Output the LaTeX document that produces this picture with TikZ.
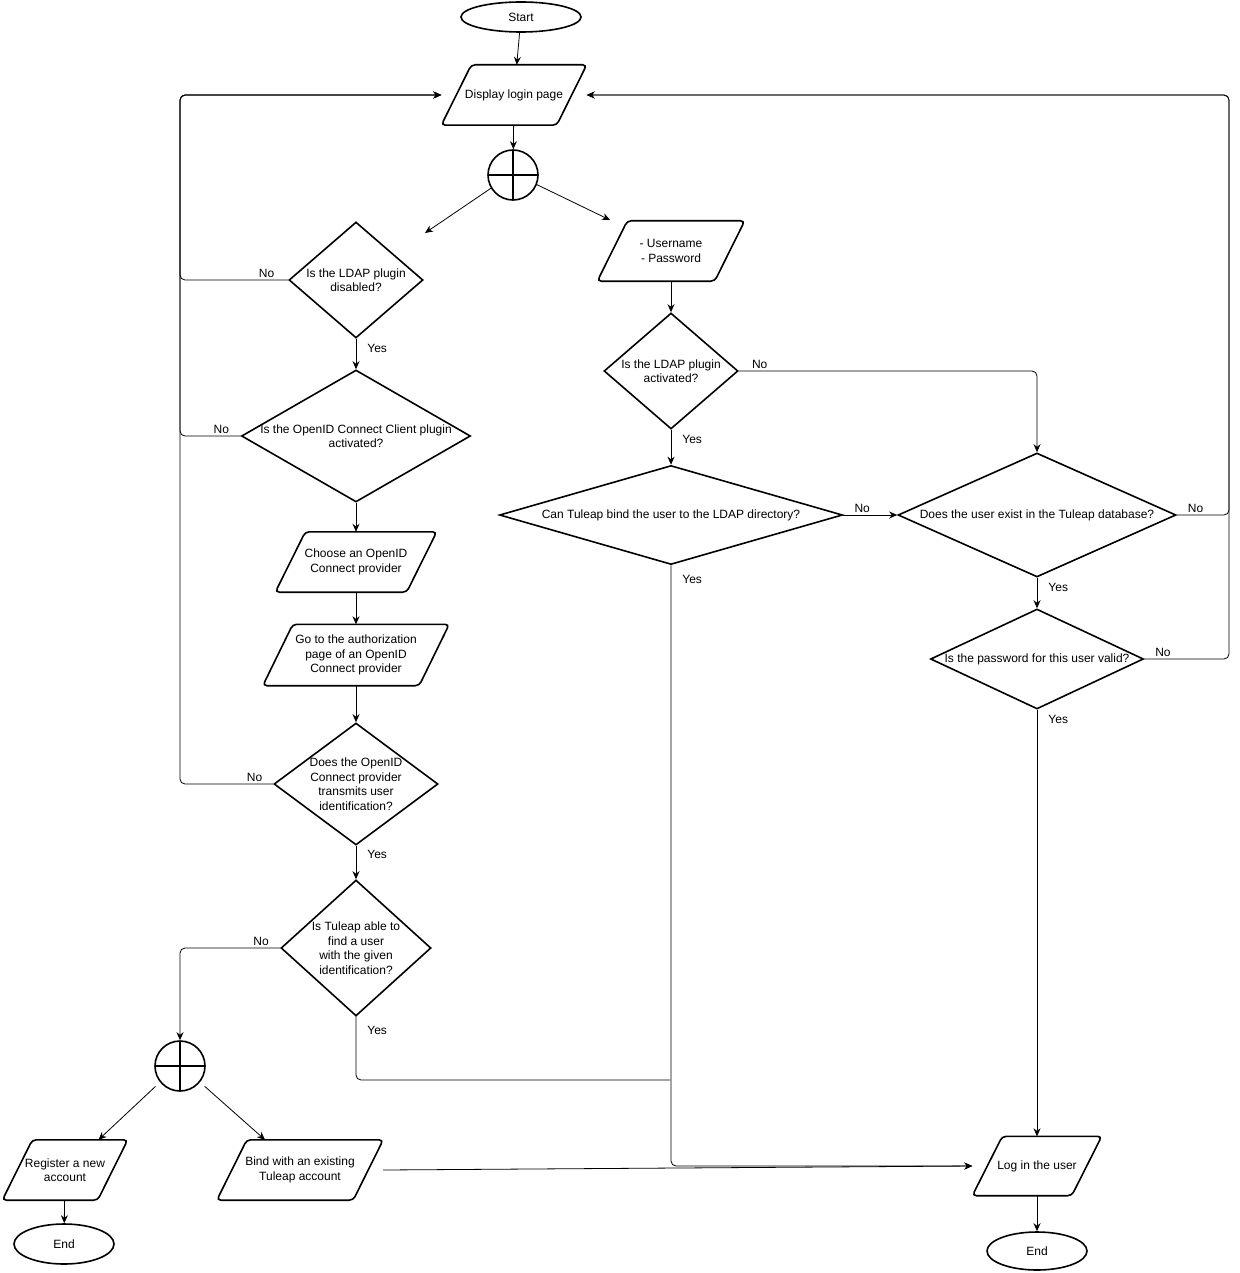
\documentclass[tikz,border=0pt]{standalone}
\usepackage{fontspec}
\setmainfont{Liberation Sans}
\usetikzlibrary{shapes.geometric,arrows.meta}

\begin{document}
\begin{tikzpicture}[x=1pt,y=-1pt,
    every node/.style={font=\fontsize{12}{14.5}\selectfont},
    term/.style={draw,ellipse,line width=1.6pt,inner sep=0pt},
    io/.style={rectangle,align=center,inner sep=1pt,
      append after command={\pgfextra{\draw[line width=1.6pt,rounded corners=4pt]
        ([xshift=15pt]\tikzlastnode.north west) -- ([xshift=15pt]\tikzlastnode.north east)
        -- ([xshift=-15pt]\tikzlastnode.south east) -- ([xshift=-15pt]\tikzlastnode.south west) -- cycle;}}},
    decision/.style={draw,diamond,line width=1.6pt,inner sep=0pt},
    orgate/.style={draw,circle,line width=1.6pt,minimum size=50pt,inner sep=0pt,
      path picture={\draw[line width=1.6pt] (path picture bounding box.north) -- (path picture bounding box.south)
        (path picture bounding box.west) -- (path picture bounding box.east);}},
    arr/.style={-{Stealth[length=8pt,width=7pt]},line width=0.8pt},
    link/.style={line width=0.8pt,rounded corners=5pt},
    lbl/.style={inner sep=2pt}]
      \useasboundingbox (0,0) rectangle (1239,1273);

      % left column
      \node[term,minimum width=120pt,minimum height=30pt] (start) at (521,17) {Start};
      \node[io,minimum width=115pt,minimum height=60pt] (disp) at (514,95) {Display login page};
      \node[orgate] (or1) at (513,175) {};
      \node[decision,minimum width=134pt,minimum height=116pt,
        label={[align=center]center:{Is the LDAP plugin\\disabled?}}] (ldapoff) at (356,280) {};
      \node[decision,minimum width=229pt,minimum height=132pt,
        label={[align=center]center:{Is the OpenID Connect Client plugin\\activated?}}] (oidc) at (356,436) {};
      \node[io,minimum width=131pt,minimum height=60pt] (choose) at (356,562) {Choose an OpenID\\Connect provider};
      \node[io,minimum width=156pt,minimum height=61pt] (authz) at (356,655) {Go to the authorization\\page of an OpenID\\Connect provider};
      \node[decision,minimum width=164pt,minimum height=122pt,
        label={[align=center]center:{Does the OpenID\\Connect provider\\transmits user\\identification?}}] (trans) at (356,784) {};
      \node[decision,minimum width=150pt,minimum height=136pt,
        label={[align=center]center:{Is Tuleap able to\\find a user\\with the given\\identification?}}] (find) at (356,948) {};
      \node[orgate] (or2) at (180,1066) {};
      \node[io,minimum width=95pt,minimum height=60pt] (reg) at (65,1170) {Register a new\\account};
      \node[term,minimum width=100pt,minimum height=40pt] (end1) at (64,1244) {End};
      \node[io,minimum width=136pt,minimum height=60pt] (bindacc) at (300,1170) {Bind with an existing\\Tuleap account};

      % right column
      \node[io,minimum width=117pt,minimum height=60pt] (cred) at (671,251) {- Username\\- Password};
      \node[decision,minimum width=134pt,minimum height=116pt,
        label={[align=center]center:{Is the LDAP plugin\\activated?}}] (ldapon) at (671,371) {};
      \node[decision,minimum width=343pt,minimum height=99pt,
        label={center:{Can Tuleap bind the user to the LDAP directory?}}] (bind) at (671,515) {};
      \node[decision,minimum width=278pt,minimum height=124pt,
        label={center:{Does the user exist in the Tuleap database?}}] (exist) at (1037,515) {};
      \node[decision,minimum width=213pt,minimum height=100pt,
        label={center:{Is the password for this user valid?}}] (pw) at (1037,659) {};
      \node[io,minimum width=99pt,minimum height=59pt] (login) at (1037,1166) {Log in the user};
      \node[term,minimum width=100pt,minimum height=38pt] (end2) at (1037,1251) {End};

      \coordinate (leftx) at (180,0);
      \coordinate (rightx) at (1229,0);
      \coordinate (dispw) at ([xshift=-15pt]disp.west);
      \coordinate (dispe) at ([xshift=15pt]disp.east);
      \coordinate (loginw) at ([xshift=-15pt]login.west);
      \coordinate (ldapoffin) at (425,233);
      \coordinate (credin) at (610,220);
      \coordinate (merge) at (670,1080);

      \draw[arr] (start) -- (disp);
      \draw[arr] (disp) -- (or1);
      \draw[arr] (or1.-149) -- (ldapoffin);
      \draw[arr] (or1.-22) -- (credin);

      \draw[arr,link] (ldapoff.west) -| node[lbl,pos=0.1,above]{No} (leftx |- dispw) -- (dispw);
      \draw[arr] (ldapoff) -- node[lbl,pos=0.31,right,xshift=9pt]{Yes} (oidc);
      \draw[arr,link] (oidc.west) -| node[lbl,pos=0.16,above]{No} (leftx |- dispw) -- (dispw);
      \draw[arr] (oidc) -- (choose);
      \draw[arr] (choose) -- (authz);
      \draw[arr] (authz) -- (trans);
      \draw[arr,link] (trans.west) -| node[lbl,pos=0.1,above]{No} (leftx |- dispw) -- (dispw);
      \draw[arr] (trans) -- node[lbl,pos=0.26,right,xshift=9pt]{Yes} (find);
      \draw[arr,link] (find.west) -| node[lbl,pos=0.095,above]{No} (or2.north);
      \draw[link] (find.south) |- node[lbl,pos=0.11,right,xshift=9pt]{Yes} (merge);
      \draw[arr,shorten <=6pt] (or2.-141) -- ([xshift=33.5pt]reg.north);
      \draw[arr,shorten <=6pt] (or2.-39) -- ([xshift=-35pt]bindacc.north);
      \draw[arr] (reg) -- (end1);
      \draw[arr] ([xshift=15pt]bindacc.east) -- (loginw);

      \draw[arr] (cred) -- (ldapon);
      \draw[arr,link] (ldapon.east) -| node[lbl,pos=0.035,above]{No} (exist.north);
      \draw[arr] (ldapon) -- node[lbl,pos=0.28,right,xshift=9pt]{Yes} (bind);
      \draw[arr] (bind) -- node[lbl,pos=0.35,above]{No} (exist);
      \draw[arr,link] (bind.south) |- node[lbl,pos=0.012,right,xshift=9pt]{Yes} (loginw);
      \draw[arr,link] (exist.east) -| node[lbl,pos=0.18,above]{No} (rightx |- dispe) -- (dispe);
      \draw[arr] (exist) -- node[lbl,pos=0.32,right,xshift=9pt]{Yes} (pw);
      \draw[arr,link] (pw.east) -| node[lbl,pos=0.11,above]{No} (rightx |- dispe) -- (dispe);
      \draw[arr] (pw) -- node[lbl,pos=0.023,right,xshift=9pt]{Yes} (login);
      \draw[arr] (login) -- (end2);
    \end{tikzpicture}
\end{document}
